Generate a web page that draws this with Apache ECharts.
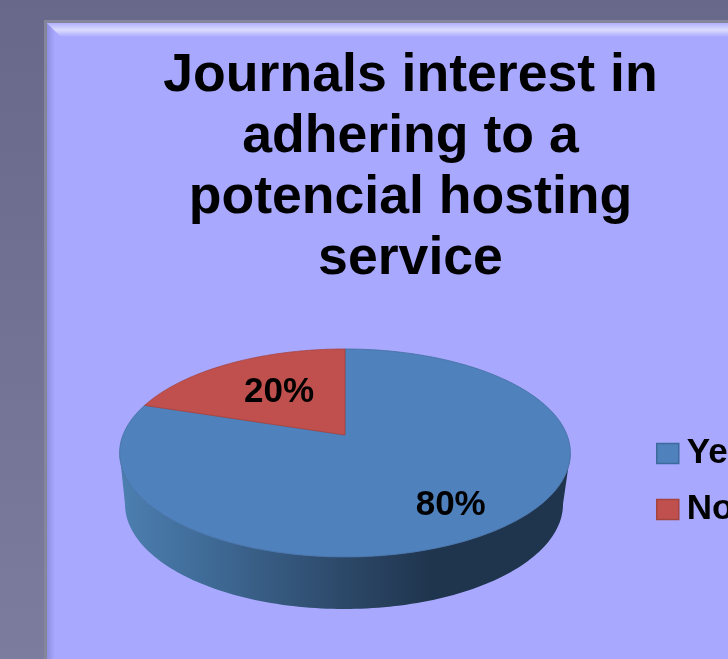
<!DOCTYPE html>
<html><head><meta charset="utf-8">
<style>html,body{margin:0;padding:0;background:#6b6b8b;overflow:hidden}#c{width:728px;height:659px}</style>
<script src="https://cdn.jsdelivr.net/npm/echarts@6/dist/echarts.min.js"></script>
</head><body><div id="c"></div>
<script>
const titleLines = ["Journals interest in", "adhering to a", "potencial hosting", "service"];
const categories = ["Yes", "No"];
const values = [80, 20];

const colors = ["#4f81bd", "#c0504d"];
const edgeColors = ["#44709f", "#a5433f"];
const legendEdges = ["#3d6a9c", "#a5433f"];
const labelRadius = [0.74, 0.57];
const labelNudge = [[-2, 3], [3, 0]];
const total = values.reduce((a, b) => a + b, 0);

// perspective projection of the pie's top face
const P = {cx: 345, cy: 435, R: 222, K: 100.9, p: 0.173};
function project(r, a) {
  const u = r * Math.sin(a), v = r * Math.cos(a), w = 1 + P.p * v;
  return [P.cx + P.R * u / w, P.cy - P.K * v / w];
}
// the angle at which the projected disc is widest: the rim starts there
const sideAngle = Math.acos(-P.p);
// the rim's lower edge
const B = {cx: 344, cy: 504, rx: 219, ry: 105};

function sliceItem(idx) {
  return function (params, api) {
    const before = values.slice(0, idx).reduce((a, b) => a + b, 0);
    const a0 = before / total * 2 * Math.PI;
    const a1 = (before + api.value(0)) / total * 2 * Math.PI;
    const children = [];
    const fs = Math.max(a0, sideAngle), fe = Math.min(a1, 2 * Math.PI - sideAngle);
    if (fe > fs) {
      const edge = [];
      const n = 120;
      for (let i = 0; i <= n; i++) edge.push(project(1, fs + (fe - fs) * i / n));
      for (let i = 0; i <= n; i++) {
        const phi = Math.PI * (1 - i / n);
        edge.push([B.cx + B.rx * Math.cos(phi), B.cy + B.ry * Math.sin(phi)]);
      }
      children.push({
        type: 'polygon', shape: {points: edge},
        style: {fill: new echarts.graphic.LinearGradient(0, 0, 1, 0, [
          {offset: 0, color: '#4c7fb0'}, {offset: 0.2, color: '#3f6a96'},
          {offset: 0.5, color: '#2c4868'}, {offset: 0.7, color: '#1f344d'}, {offset: 1, color: '#1f344d'}])}
      });
    }
    const pts = [[P.cx, P.cy]];
    const m = 200;
    for (let i = 0; i <= m; i++) pts.push(project(1, a0 + (a1 - a0) * i / m));
    children.push({
      type: 'polygon', shape: {points: pts},
      style: {fill: colors[idx], stroke: edgeColors[idx], lineWidth: 0.8}
    });
    const mid = (a0 + a1) / 2, lp = project(labelRadius[idx], mid);
    children.push({
      type: 'text', x: lp[0] + labelNudge[idx][0], y: lp[1] + labelNudge[idx][1], z2: 5,
      style: {text: Math.round(api.value(0) / total * 100) + '%', fill: '#000', align: 'center', verticalAlign: 'middle',
        font: 'bold 35px "Liberation Sans", Arial, sans-serif'}
    });
    return {type: 'group', children};
  };
}

const series = categories.map((name, i) => ({
  type: 'custom', name, coordinateSystem: 'none', silent: true, animation: false,
  clip: false, z: i === 0 ? 2 : 3,
  itemStyle: {color: colors[i]}, data: [[values[i]]], renderItem: sliceItem(i)
}));

const panelL = 47, panelT = 23, W = 728, H = 659, bev = 14;
const chart = echarts.init(document.getElementById('c'), null, {renderer: 'canvas', width: W, height: H});
chart.setOption({
  animation: false,
  backgroundColor: new echarts.graphic.LinearGradient(0, 0, 0, 1, [{offset: 0, color: '#68688a'}, {offset: 1, color: '#7c7c9e'}]),
  title: {
    text: titleLines.join('\n'), left: 405.5, top: 41, textAlign: 'center',
    textStyle: {fontFamily: '"Liberation Sans", Arial, sans-serif', fontWeight: 'bold', fontSize: 53.6, lineHeight: 61, color: '#000'}
  },
  legend: {
    orient: 'vertical', left: 656, top: 436, itemWidth: 22, itemHeight: 20, itemGap: 21, padding: 0,
    icon: 'rect', selectedMode: false,
    data: categories.map((name, i) => ({name, itemStyle: {color: colors[i], borderColor: legendEdges[i], borderWidth: 1.5}})),
    textStyle: {fontFamily: '"Liberation Sans", Arial, sans-serif', fontWeight: 'bold', fontSize: 35, color: '#000', lineHeight: 35, padding: [0, 0, 0, 3]}
  },
  graphic: [
    {type: 'rect', z: -10, silent: true, shape: {x: panelL - 3, y: panelT - 3, width: W, height: H}, style: {fill: '#85859c'}},
    {type: 'rect', z: -9, silent: true, shape: {x: panelL, y: panelT, width: W, height: H}, style: {fill: '#a8a8ff'}},
    {type: 'polygon', z: -8, silent: true, shape: {points: [[panelL, panelT], [panelL + 8, panelT + 8], [panelL + 8, H], [panelL, H]]},
      style: {fill: new echarts.graphic.LinearGradient(0, 0, 1, 0, [{offset: 0, color: '#8e8ee0'}, {offset: 1, color: '#a8a8ff'}])}},
    {type: 'polygon', z: -7, silent: true, shape: {points: [[panelL, panelT], [W, panelT], [W, panelT + bev], [panelL + bev, panelT + bev]]},
      style: {fill: new echarts.graphic.LinearGradient(0, 0, 0, 1, [{offset: 0, color: '#b0b0ff'}, {offset: 0.5, color: '#dcdcff'}, {offset: 1, color: '#a8a8ff'}])}}
  ],
  series
});
</script></body></html>
